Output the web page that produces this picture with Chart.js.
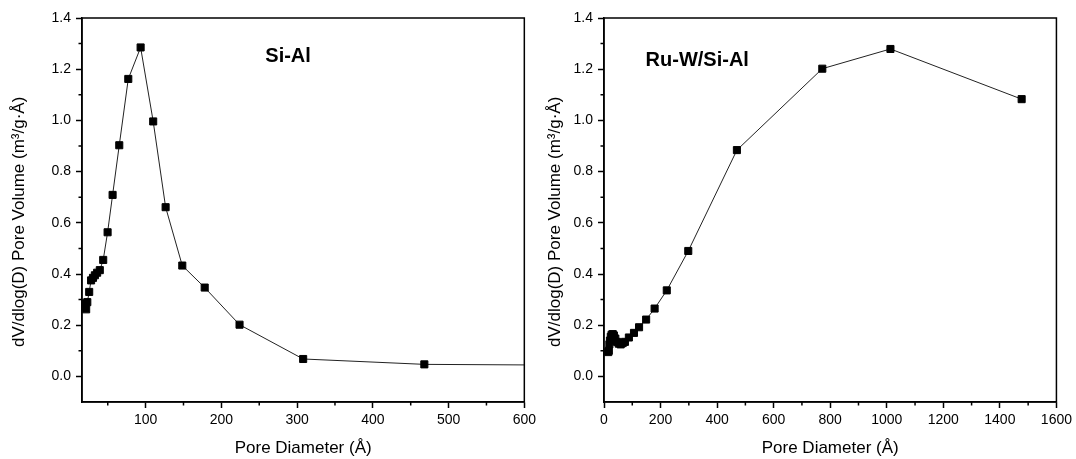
<!DOCTYPE html>
<html><head><meta charset="utf-8">
<script src="https://cdn.jsdelivr.net/npm/chart.js@4.4.0/dist/chart.umd.min.js"></script>
<style>
html,body{margin:0;padding:0;background:#fff;}
#wrap{position:relative;width:1076px;height:459px;overflow:hidden;}
.c{position:absolute;top:0;height:459px;}
</style></head><body>
<div id="wrap">
<div class="c" style="left:0;width:540px"><canvas id="c1" width="540" height="459"></canvas></div>
<div class="c" style="left:540px;width:536px"><canvas id="c2" width="536" height="459"></canvas></div>
</div>
<script>
// ---- data ----
const siAlDiameter = [18, 20, 21.5, 23, 25.5, 28, 30.5, 33, 36, 39.5, 44, 49.8, 56.4, 65.2, 77.1, 93.4, 110, 126.4, 148.4, 178, 224, 308, 468, 772];
const siAlVolume   = [0.285, 0.27, 0.262, 0.29, 0.33, 0.375, 0.385, 0.395, 0.405, 0.415, 0.455, 0.563, 0.709, 0.903, 1.162, 1.285, 0.996, 0.661, 0.433, 0.347, 0.202, 0.068, 0.047, 0.042];

const ruwDiameter = [15, 17, 19, 21, 24, 27, 31, 35, 40, 46, 52, 59, 66, 74, 88, 106, 124, 149, 179, 222, 298, 470, 772, 1013, 1477];
const ruwVolume   = [0.095, 0.10, 0.125, 0.14, 0.155, 0.163, 0.165, 0.16, 0.148, 0.135, 0.128, 0.125, 0.13, 0.135, 0.152, 0.17, 0.192, 0.222, 0.265, 0.336, 0.49, 0.884, 1.202, 1.279, 1.083];

const yTicks       = [0, 0.2, 0.4, 0.6, 0.8, 1.0, 1.2, 1.4];
const yMinorTicks  = [0.1, 0.3, 0.5, 0.7, 0.9, 1.1, 1.3];
const xTicksLeft   = [100, 200, 300, 400, 500, 600];
const xMinorLeft   = [50, 150, 250, 350, 450, 550];
const xTicksRight  = [0, 200, 400, 600, 800, 1000, 1200, 1400, 1600];
const xMinorRight  = [100, 300, 500, 700, 900, 1100, 1300, 1500];

const leftLabel  = 'Si-Al';
const rightLabel = 'Ru-W/Si-Al';
const xTitle = 'Pore Diameter (Å)';
const yTitle = 'dV/dlog(D) Pore Volume (m³/g·Å)     ';

const FONT = "'Liberation Sans', Arial, sans-serif";

const framePlugin = {
  id: 'frame',
  afterDraw(chart, args, opts) {
    const {ctx, chartArea: a, scales: {x, y}} = chart;
    ctx.save();
    ctx.strokeStyle = '#000';
    ctx.lineWidth = 1.5;
    ctx.strokeRect(a.left, a.top, a.right - a.left, a.bottom - a.top);
    ctx.beginPath();
    opts.xMinor.forEach(v => {
      const px = x.getPixelForValue(v);
      ctx.moveTo(px, a.bottom); ctx.lineTo(px, a.bottom + 3.5);
    });
    opts.yMinor.forEach(v => {
      const py = y.getPixelForValue(v);
      ctx.moveTo(a.left, py); ctx.lineTo(a.left - 3.5, py);
    });
    ctx.stroke();
    // sample label placed in data coordinates
    ctx.fillStyle = '#000';
    ctx.font = 'bold 20px ' + FONT;
    ctx.textAlign = 'left';
    ctx.textBaseline = 'middle';
    ctx.fillText(opts.label, x.getPixelForValue(opts.labelX), y.getPixelForValue(opts.labelY));
    ctx.restore();
  }
};

function makeChart(id, xs, ys, xMin, xMax, xTicks, xMinor, yAxisWidth, rightPad, label, labelX, labelY) {
  const pts = xs.map((d, i) => ({x: d, y: ys[i]}));
  return new Chart(document.getElementById(id), {
    type: 'scatter',
    data: {datasets: [{
      data: pts,
      showLine: true,
      borderColor: '#222',
      borderWidth: 1,
      pointStyle: 'rect',
      pointRadius: 5,
      pointBorderWidth: 1,
      pointBackgroundColor: '#000',
      pointBorderColor: '#000',
      pointHoverRadius: 5
    }]},
    options: {
      responsive: false,
      animation: false,
      events: [],
      layout: {padding: {top: 18, right: rightPad, left: 0, bottom: 0}},
      plugins: {
        legend: {display: false},
        tooltip: {enabled: false},
        frame: {xMinor: xMinor, yMinor: yMinorTicks, label: label, labelX: labelX, labelY: labelY}
      },
      scales: {
        x: {
          type: 'linear', min: xMin, max: xMax,
          afterBuildTicks: s => { s.ticks = xTicks.map(v => ({value: v})); },
          afterFit: s => { s.height = 57; },
          ticks: {color: '#000', font: {family: FONT, size: 14}, padding: 4, maxRotation: 0,
                  callback: v => String(v)},
          grid: {drawOnChartArea: false, drawTicks: true, tickLength: 6, tickColor: '#000', tickWidth: 1.5},
          border: {display: true, color: '#000', width: 1.5},
          title: {display: true, text: xTitle, color: '#000', font: {family: FONT, size: 17}, padding: {top: 0, bottom: 0}}
        },
        y: {
          type: 'linear', min: -0.1, max: 1.4,
          afterBuildTicks: s => { s.ticks = yTicks.map(v => ({value: v})); },
          afterFit: s => { s.width = yAxisWidth; },
          ticks: {color: '#000', font: {family: FONT, size: 14}, padding: 5,
                  callback: v => Number(v).toFixed(1)},
          grid: {drawOnChartArea: false, drawTicks: true, tickLength: 6, tickColor: '#000', tickWidth: 1.5},
          border: {display: true, color: '#000', width: 1.5},
          title: {display: true, text: yTitle, color: '#000', font: {family: FONT, size: 17}, padding: {top: yAxisWidth > 70 ? 9 : 5, bottom: 0}}
        }
      }
    },
    plugins: [framePlugin]
  });
}

makeChart('c1', siAlDiameter, siAlVolume, 16, 600, xTicksLeft, xMinorLeft, 82, 15, leftLabel, 258, 1.25);
makeChart('c2', ruwDiameter, ruwVolume, 0, 1600, xTicksRight, xMinorRight, 64, 18, rightLabel, 147, 1.233);
</script>
</body></html>
